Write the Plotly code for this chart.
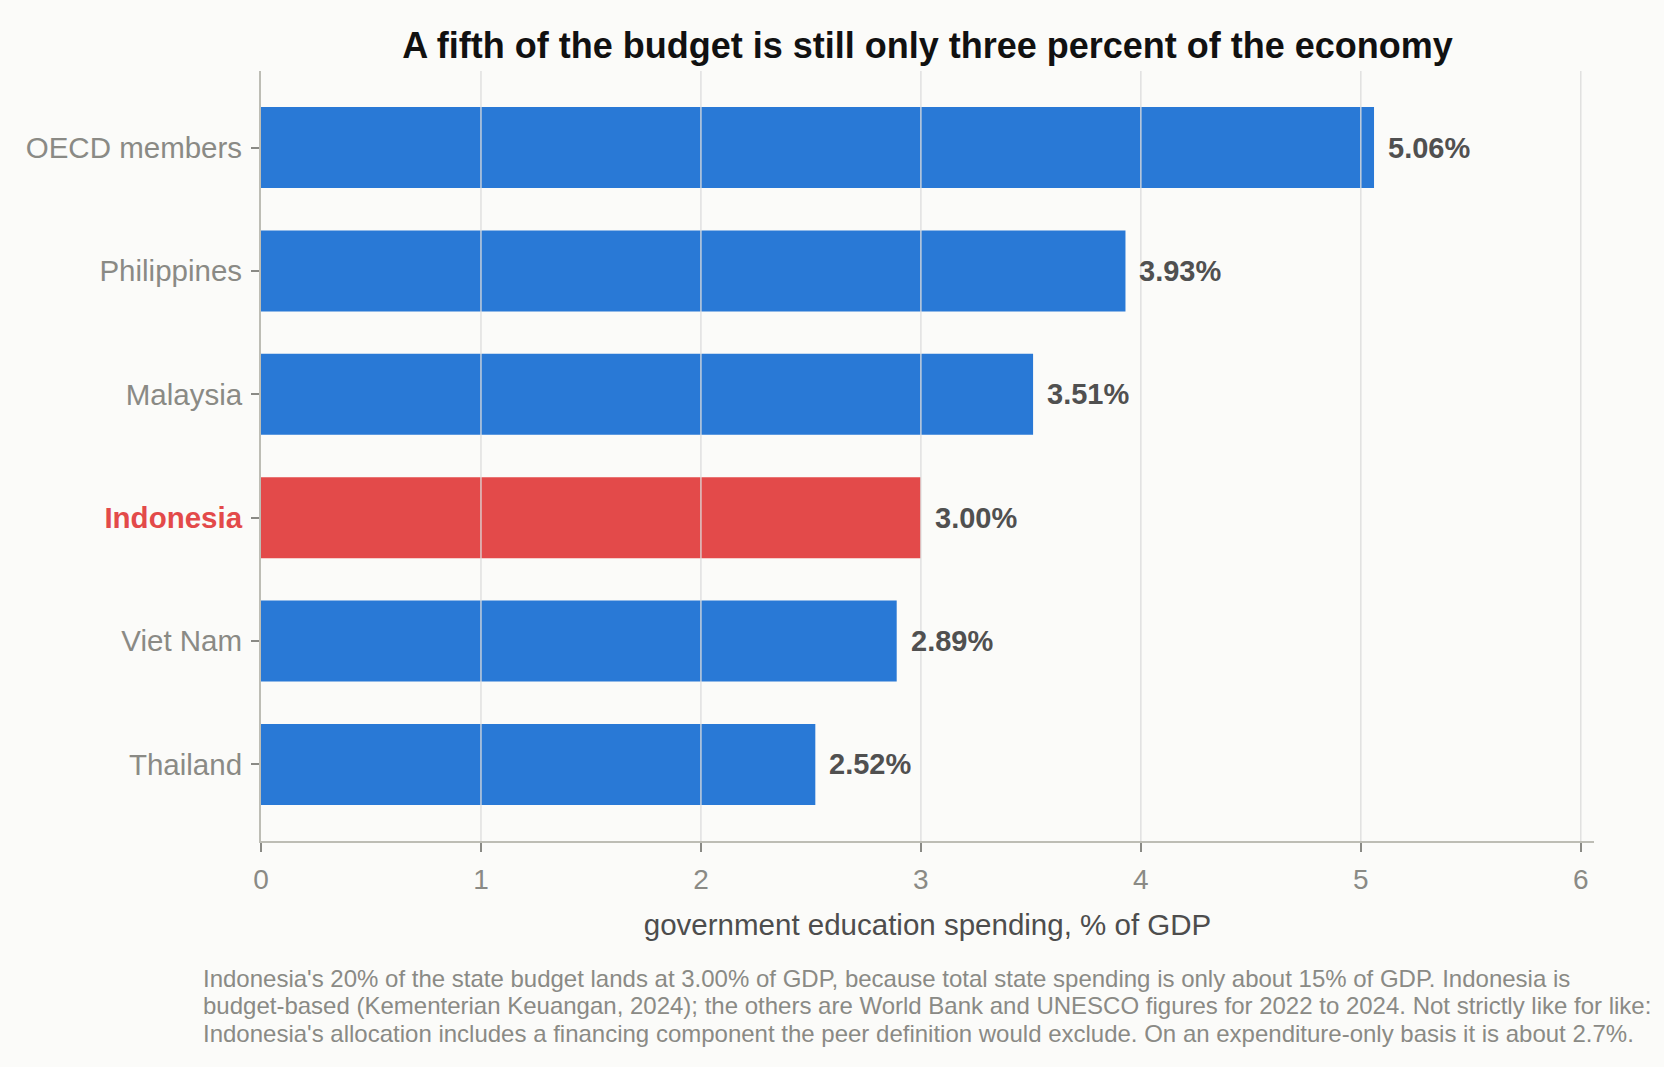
import plotly.graph_objects as go

# data
countries = ["OECD members", "Philippines", "Malaysia", "Indonesia", "Viet Nam", "Thailand"]
spending = [5.06, 3.93, 3.51, 3.00, 2.89, 2.52]
highlight = "Indonesia"
x_ticks = [0, 1, 2, 3, 4, 5, 6]

TITLE = "A fifth of the budget is still only three percent of the economy"
X_TITLE = "government education spending, % of GDP"
NOTE_LINES = [
    "Indonesia's 20% of the state budget lands at 3.00% of GDP, because total state spending is only about 15% of GDP. Indonesia is",
    "budget-based (Kementerian Keuangan, 2024); the others are World Bank and UNESCO figures for 2022 to 2024. Not strictly like for like:",
    "Indonesia's allocation includes a financing component the peer definition would exclude. On an expenditure-only basis it is about 2.7%.",
]

BLUE = "#2979D6"
RED = "#E34A4A"
BG = "#FBFBF9"
FONT = "Liberation Sans, Arial, Helvetica, sans-serif"

colors = [RED if c == highlight else BLUE for c in countries]
tick_text = ["<span style='color:%s'><b>%s</b></span>" % (RED, c) if c == highlight else c
             for c in countries]

fig = go.Figure()
fig.add_trace(go.Bar(x=spending, y=countries, orientation="h",
                     marker=dict(color=colors, line=dict(width=0)),
                     hoverinfo="skip", showlegend=False))

# value labels a little to the right of each bar
for c, v in zip(countries, spending):
    fig.add_annotation(x=v, y=c, xref="x", yref="y", text="<b>%.2f%%</b>" % v,
                       showarrow=False, xanchor="left", xshift=12,
                       font=dict(family=FONT, size=29, color="#505050"))

# gridlines sit on top of the bars in the reference
for t in x_ticks[1:]:
    fig.add_shape(type="line", xref="x", yref="paper", x0=t, x1=t, y0=0, y1=1,
                  line=dict(color="#DCDCDC", width=1.3), layer="above")

# footnote, one annotation per line so the line spacing can be tighter
for k, line in enumerate(NOTE_LINES):
    fig.add_annotation(text=line, xref="paper", yref="paper", x=-0.045, y=-0.158,
                       yshift=-27.7 * k, xanchor="left", yanchor="top", align="left",
                       showarrow=False, font=dict(family=FONT, size=24, color="#8A8A85"))

fig.update_layout(
    width=1664, height=1067,
    paper_bgcolor=BG, plot_bgcolor=BG,
    margin=dict(l=261, r=70, t=71, b=226),
    bargap=0.344,
    font=dict(family=FONT),
    title=dict(text="<b>%s</b>" % TITLE, x=0.5, xref="paper", xanchor="center",
               y=1 - 45 / 1067, yref="container", yanchor="middle",
               font=dict(family=FONT, size=36, color="#111111")),
    xaxis=dict(range=[0, 6.06], tickvals=x_ticks, showgrid=False, zeroline=False,
               showline=True, linecolor="#BDBDB5", linewidth=2,
               ticks="outside", ticklen=9, tickwidth=2, tickcolor="#8A8A85",
               ticklabelstandoff=3,
               tickfont=dict(family=FONT, size=28, color="#8A8A85"),
               title=dict(text=X_TITLE, standoff=21,
                          font=dict(family=FONT, size=29.5, color="#4D4D4D"))),
    yaxis=dict(range=[5.62, -0.62], tickvals=countries, ticktext=tick_text,
               showgrid=False, zeroline=False,
               showline=True, linecolor="#BDBDB5", linewidth=2,
               ticks="outside", ticklen=8, tickwidth=2, tickcolor="#8A8A85",
               ticklabelstandoff=3,
               tickfont=dict(family=FONT, size=29.5, color="#8A8A85")),
)

# drop the default page margin so the figure fills the window
fig.write_html("out.html", config={"displayModeBar": False},
               post_script="document.body.style.margin='0';")
